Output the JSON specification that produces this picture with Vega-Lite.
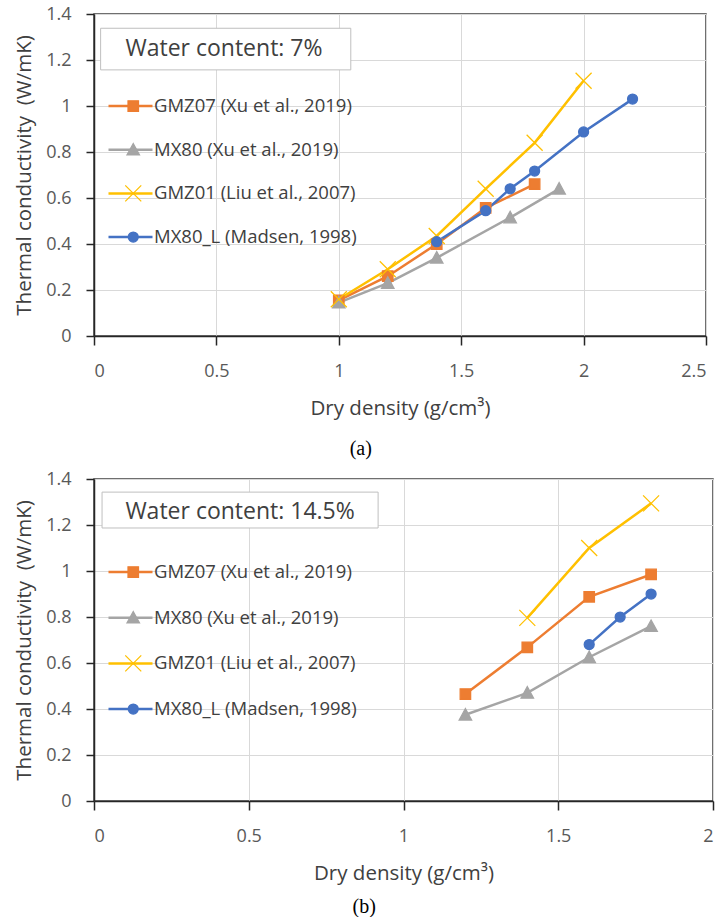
{
  "$schema": "https://vega.github.io/schema/vega-lite/v6.json",
  "background": "white",
  "padding": {"left": 13, "top": 4, "right": 2, "bottom": 0},
  "datasets": {
    "wc7": [
      {"series": "GMZ07 (Xu et al., 2019)", "density": 1.0, "k": 0.155},
      {"series": "GMZ07 (Xu et al., 2019)", "density": 1.2, "k": 0.26},
      {"series": "GMZ07 (Xu et al., 2019)", "density": 1.4, "k": 0.40},
      {"series": "GMZ07 (Xu et al., 2019)", "density": 1.6, "k": 0.557},
      {"series": "GMZ07 (Xu et al., 2019)", "density": 1.8, "k": 0.66},
      {"series": "MX80 (Xu et al., 2019)", "density": 1.0, "k": 0.145},
      {"series": "MX80 (Xu et al., 2019)", "density": 1.2, "k": 0.23},
      {"series": "MX80 (Xu et al., 2019)", "density": 1.4, "k": 0.34},
      {"series": "MX80 (Xu et al., 2019)", "density": 1.7, "k": 0.515},
      {"series": "MX80 (Xu et al., 2019)", "density": 1.9, "k": 0.64},
      {"series": "GMZ01 (Liu et al., 2007)", "density": 1.0, "k": 0.16},
      {"series": "GMZ01 (Liu et al., 2007)", "density": 1.2, "k": 0.29},
      {"series": "GMZ01 (Liu et al., 2007)", "density": 1.4, "k": 0.435},
      {"series": "GMZ01 (Liu et al., 2007)", "density": 1.6, "k": 0.64},
      {"series": "GMZ01 (Liu et al., 2007)", "density": 1.8, "k": 0.84},
      {"series": "GMZ01 (Liu et al., 2007)", "density": 2.0, "k": 1.11},
      {"series": "MX80_L (Madsen, 1998)", "density": 1.4, "k": 0.41},
      {"series": "MX80_L (Madsen, 1998)", "density": 1.6, "k": 0.545},
      {"series": "MX80_L (Madsen, 1998)", "density": 1.7, "k": 0.64},
      {"series": "MX80_L (Madsen, 1998)", "density": 1.8, "k": 0.717},
      {"series": "MX80_L (Madsen, 1998)", "density": 2.0, "k": 0.887},
      {"series": "MX80_L (Madsen, 1998)", "density": 2.2, "k": 1.03}
    ],
    "wc145": [
      {"series": "GMZ07 (Xu et al., 2019)", "density": 1.2, "k": 0.465},
      {"series": "GMZ07 (Xu et al., 2019)", "density": 1.4, "k": 0.668},
      {"series": "GMZ07 (Xu et al., 2019)", "density": 1.6, "k": 0.888},
      {"series": "GMZ07 (Xu et al., 2019)", "density": 1.8, "k": 0.985},
      {"series": "MX80 (Xu et al., 2019)", "density": 1.2, "k": 0.375},
      {"series": "MX80 (Xu et al., 2019)", "density": 1.4, "k": 0.47},
      {"series": "MX80 (Xu et al., 2019)", "density": 1.6, "k": 0.625},
      {"series": "MX80 (Xu et al., 2019)", "density": 1.8, "k": 0.76},
      {"series": "GMZ01 (Liu et al., 2007)", "density": 1.4, "k": 0.796},
      {"series": "GMZ01 (Liu et al., 2007)", "density": 1.6, "k": 1.10},
      {"series": "GMZ01 (Liu et al., 2007)", "density": 1.8, "k": 1.294},
      {"series": "MX80_L (Madsen, 1998)", "density": 1.6, "k": 0.68},
      {"series": "MX80_L (Madsen, 1998)", "density": 1.7, "k": 0.80},
      {"series": "MX80_L (Madsen, 1998)", "density": 1.8, "k": 0.90}
    ],
    "note7": [{"note": "Water content: 7%"}],
    "note145": [{"note": "Water content: 14.5%"}]
  },
  "config": {
    "font": "Open Sans",
    "view": {"stroke": "#404040", "strokeWidth": 1.5},
    "axis": {
      "domainColor": "#262626",
      "domainWidth": 1.5,
      "tickColor": "#262626",
      "tickWidth": 1.5,
      "gridColor": "#D9D9D9",
      "gridWidth": 1,
      "labelFont": "Open Sans",
      "labelFontSize": 18,
      "labelColor": "#595959",
      "titleFont": "Open Sans",
      "titleFontSize": 20.5,
      "titleFontWeight": "normal",
      "titleColor": "#404040"
    },
    "axisX": {"tickSize": 9, "labelPadding": 17, "titlePadding": 18},
    "axisY": {"tickSize": 8, "labelPadding": 15, "titlePadding": 11},
    "legend": {"title": null, "padding": 0, "labelFont": "Open Sans", "labelFontSize": 18.5, "labelColor": "#404040", "labelLimit": 400, "clipHeight": 20}
  },
  "resolve": {
    "scale": {"x": "independent", "y": "independent", "color": "independent", "shape": "independent", "fill": "independent", "stroke": "independent"},
    "legend": {"color": "independent", "shape": "independent", "fill": "independent", "stroke": "independent"}
  },
  "spacing": 9,
  "vconcat": [
    {
      "width": 612,
      "height": 322,
      "title": {"text": "(a)", "orient": "bottom", "frame": "bounds", "anchor": "middle", "font": "Liberation Serif", "fontSize": 20, "fontWeight": "normal", "color": "#000000", "offset": 20},
      "layer": [
        {
          "data": {"name": "wc7"},
          "mark": {"type": "line", "strokeWidth": 2.5},
          "encoding": {
            "x": {"field": "density", "type": "quantitative", "scale": {"domain": [0, 2.5], "nice": false}, "axis": {"values": [0, 0.5, 1, 1.5, 2, 2.5], "format": "~g", "title": "Dry density (g/cm³)"}},
            "y": {"field": "k", "type": "quantitative", "scale": {"domain": [0, 1.4], "nice": false}, "axis": {"values": [0, 0.2, 0.4, 0.6, 0.8, 1, 1.2, 1.4], "format": "~g", "title": "Thermal conductivity\u00a0 (W/mK)"}},
            "color": {
              "field": "series", "type": "nominal",
              "sort": ["GMZ07 (Xu et al., 2019)", "MX80 (Xu et al., 2019)", "GMZ01 (Liu et al., 2007)", "MX80_L (Madsen, 1998)"],
              "scale": {"range": ["#ED7D31", "#A5A5A5", "#FFC000", "#4472C4"]},
              "legend": {"orient": "none", "legendX": 13, "legendY": 82, "symbolType": "stroke", "symbolSize": 1936, "symbolStrokeWidth": 2.5, "labelOffset": 0, "rowPadding": 23.7}
            }
          }
        },
        {
          "data": {"name": "wc7"},
          "mark": {"type": "point", "filled": true, "opacity": 1, "size": 100, "strokeWidth": 1.25},
          "encoding": {
            "x": {"field": "density", "type": "quantitative"},
            "y": {"field": "k", "type": "quantitative"},
            "fill": {"field": "series", "type": "nominal", "scale": {"domain": ["GMZ07 (Xu et al., 2019)", "MX80 (Xu et al., 2019)", "GMZ01 (Liu et al., 2007)", "MX80_L (Madsen, 1998)"], "range": ["#ED7D31", "#A5A5A5", "#FFC000", "#4472C4"]},
              "legend": {"orient": "none", "legendX": 30, "legendY": 82, "symbolSize": 100, "symbolStrokeWidth": 1.25, "labelExpr": "''", "rowPadding": 23.7}},
            "stroke": {"field": "series", "type": "nominal", "scale": {"domain": ["GMZ07 (Xu et al., 2019)", "MX80 (Xu et al., 2019)", "GMZ01 (Liu et al., 2007)", "MX80_L (Madsen, 1998)"], "range": ["#ED7D31", "#A5A5A5", "#FFC000", "#4472C4"]},
              "legend": {"orient": "none", "legendX": 30, "legendY": 82, "symbolSize": 100, "symbolStrokeWidth": 1.25, "labelExpr": "''", "rowPadding": 23.7}},
            "shape": {"field": "series", "type": "nominal", "scale": {"domain": ["GMZ07 (Xu et al., 2019)", "MX80 (Xu et al., 2019)", "GMZ01 (Liu et al., 2007)", "MX80_L (Madsen, 1998)"], "range": ["M-1.05,-1.05L1.05,-1.05L1.05,1.05L-1.05,1.05Z", "M0,-1.25L1.25,1.05L-1.25,1.05Z", "M-1.6,-1.6L1.6,1.6M-1.6,1.6L1.6,-1.6", "circle"]},
              "legend": {"orient": "none", "legendX": 30, "legendY": 82, "symbolSize": 100, "symbolStrokeWidth": 1.25, "labelExpr": "''", "rowPadding": 23.7}}
          }
        },
        {
          "data": {"name": "note7"},
          "mark": {"type": "rect", "fill": "white", "stroke": "#BFBFBF", "strokeWidth": 1},
          "encoding": {"x": {"datum": 0.027}, "x2": {"datum": 1.049}, "y": {"datum": 1.338}, "y2": {"datum": 1.157}}
        },
        {
          "data": {"name": "note7"},
          "mark": {"type": "text", "font": "Open Sans", "fontSize": 23, "color": "#404040", "baseline": "middle", "align": "center"},
          "encoding": {"x": {"datum": 0.531}, "y": {"datum": 1.248}, "text": {"field": "note"}}
        }
      ]
    },
    {
      "width": 619,
      "height": 322,
      "title": {"text": "(b)", "orient": "bottom", "frame": "bounds", "anchor": "middle", "font": "Liberation Serif", "fontSize": 20, "fontWeight": "normal", "color": "#000000", "offset": 13},
      "layer": [
        {
          "data": {"name": "wc145"},
          "mark": {"type": "line", "strokeWidth": 2.5},
          "encoding": {
            "x": {"field": "density", "type": "quantitative", "scale": {"domain": [0, 2], "nice": false}, "axis": {"values": [0, 0.5, 1, 1.5, 2], "format": "~g", "title": "Dry density (g/cm³)"}},
            "y": {"field": "k", "type": "quantitative", "scale": {"domain": [0, 1.4], "nice": false}, "axis": {"values": [0, 0.2, 0.4, 0.6, 0.8, 1, 1.2, 1.4], "format": "~g", "title": "Thermal conductivity\u00a0 (W/mK)"}},
            "color": {
              "field": "series", "type": "nominal",
              "sort": ["GMZ07 (Xu et al., 2019)", "MX80 (Xu et al., 2019)", "GMZ01 (Liu et al., 2007)", "MX80_L (Madsen, 1998)"],
              "scale": {"range": ["#ED7D31", "#A5A5A5", "#FFC000", "#4472C4"]},
              "legend": {"orient": "none", "legendX": 13, "legendY": 83, "symbolType": "stroke", "symbolSize": 1936, "symbolStrokeWidth": 2.5, "labelOffset": 0, "rowPadding": 25.7}
            }
          }
        },
        {
          "data": {"name": "wc145"},
          "mark": {"type": "point", "filled": true, "opacity": 1, "size": 100, "strokeWidth": 1.25},
          "encoding": {
            "x": {"field": "density", "type": "quantitative"},
            "y": {"field": "k", "type": "quantitative"},
            "fill": {"field": "series", "type": "nominal", "scale": {"domain": ["GMZ07 (Xu et al., 2019)", "MX80 (Xu et al., 2019)", "GMZ01 (Liu et al., 2007)", "MX80_L (Madsen, 1998)"], "range": ["#ED7D31", "#A5A5A5", "#FFC000", "#4472C4"]},
              "legend": {"orient": "none", "legendX": 30, "legendY": 83, "symbolSize": 100, "symbolStrokeWidth": 1.25, "labelExpr": "''", "rowPadding": 25.7}},
            "stroke": {"field": "series", "type": "nominal", "scale": {"domain": ["GMZ07 (Xu et al., 2019)", "MX80 (Xu et al., 2019)", "GMZ01 (Liu et al., 2007)", "MX80_L (Madsen, 1998)"], "range": ["#ED7D31", "#A5A5A5", "#FFC000", "#4472C4"]},
              "legend": {"orient": "none", "legendX": 30, "legendY": 83, "symbolSize": 100, "symbolStrokeWidth": 1.25, "labelExpr": "''", "rowPadding": 25.7}},
            "shape": {"field": "series", "type": "nominal", "scale": {"domain": ["GMZ07 (Xu et al., 2019)", "MX80 (Xu et al., 2019)", "GMZ01 (Liu et al., 2007)", "MX80_L (Madsen, 1998)"], "range": ["M-1.05,-1.05L1.05,-1.05L1.05,1.05L-1.05,1.05Z", "M0,-1.25L1.25,1.05L-1.25,1.05Z", "M-1.6,-1.6L1.6,1.6M-1.6,1.6L1.6,-1.6", "circle"]},
              "legend": {"orient": "none", "legendX": 30, "legendY": 83, "symbolSize": 100, "symbolStrokeWidth": 1.25, "labelExpr": "''", "rowPadding": 25.7}}
          }
        },
        {
          "data": {"name": "note145"},
          "mark": {"type": "rect", "fill": "white", "stroke": "#BFBFBF", "strokeWidth": 1},
          "encoding": {"x": {"datum": 0.026}, "x2": {"datum": 0.918}, "y": {"datum": 1.343}, "y2": {"datum": 1.187}}
        },
        {
          "data": {"name": "note145"},
          "mark": {"type": "text", "font": "Open Sans", "fontSize": 23, "color": "#404040", "baseline": "middle", "align": "center"},
          "encoding": {"x": {"datum": 0.472}, "y": {"datum": 1.258}, "text": {"field": "note"}}
        }
      ]
    }
  ]
}
